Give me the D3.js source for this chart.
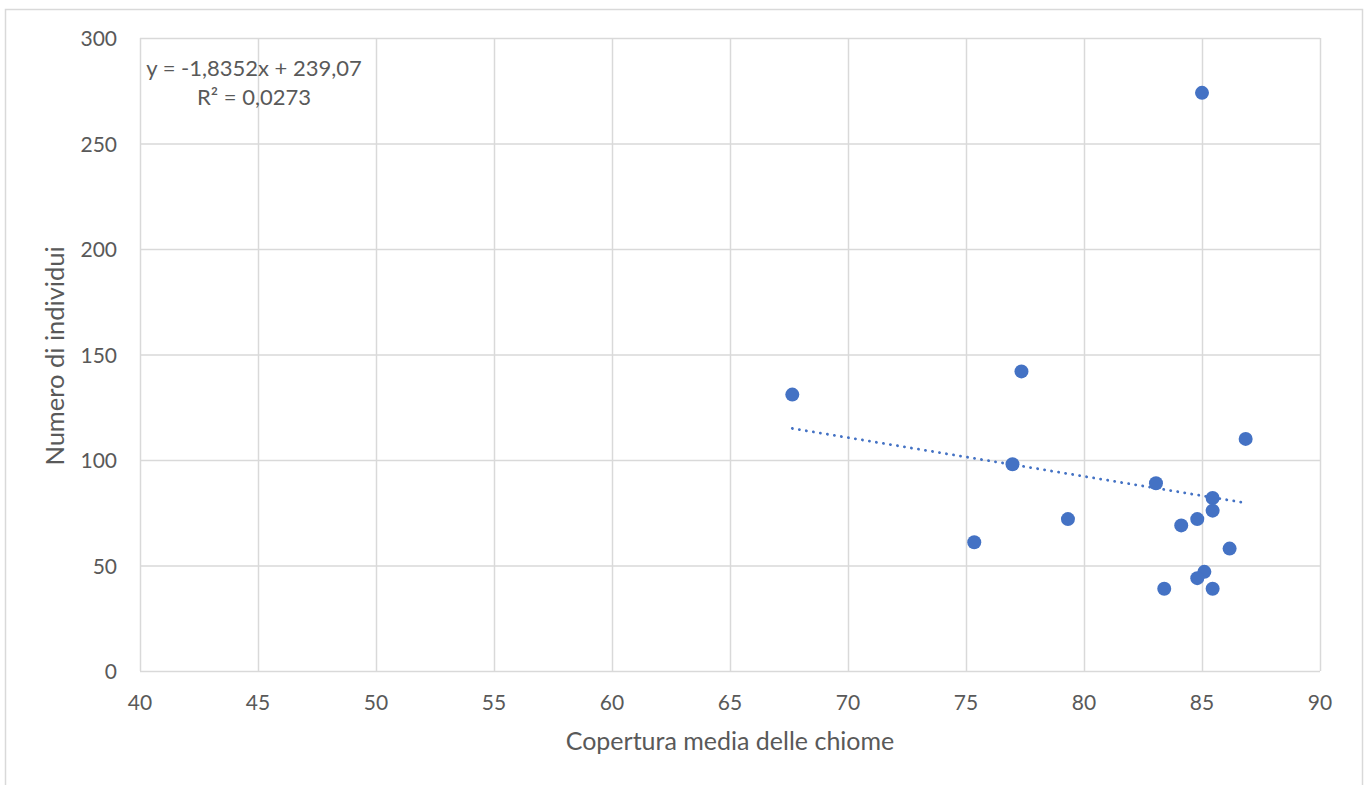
<!DOCTYPE html>
<html><head><meta charset="utf-8">
<script src="https://cdn.jsdelivr.net/npm/d3@7"></script>
<style>
body{margin:0;background:#fff;}
text{font-family:Lato,"Open Sans",sans-serif;fill:#595959;}
</style></head>
<body><svg id="c" width="1369" height="785"></svg>
<script>
const xValues = [67.64, 77.35, 85.0, 76.97, 86.85, 75.35, 79.32, 83.05, 85.45, 85.45, 84.8, 84.12, 86.17, 85.1, 84.8, 85.45, 83.4];
const yValues = [131, 142, 274, 98, 110, 61, 72, 89, 82, 76, 72, 69, 58, 47, 44, 39, 39];
const xTicks = [40, 45, 50, 55, 60, 65, 70, 75, 80, 85, 90];
const yTicks = [0, 50, 100, 150, 200, 250, 300];
const slope = -1.8352, intercept = 239.07;
const eqLabel = "y = -1,8352x + 239,07";
const r2Label = "R² = 0,0273";
const xTitle = "Copertura media delle chiome";
const yTitle = "Numero di individui";

const svg = d3.select("#c");
const L = 140, R = 1320, T = 38, B = 671;
const x = d3.scaleLinear().domain([40, 90]).range([L, R]);
const y = d3.scaleLinear().domain([0, 300]).range([B, T]);

svg.append("rect").attr("x", 5.5).attr("y", 9.5).attr("width", 1357).attr("height", 800)
  .attr("fill", "none").attr("stroke", "#d9d9d9").attr("stroke-width", 1.5);

// gridlines
const gx = svg.append("g").attr("transform", `translate(0,${B})`)
  .call(d3.axisBottom(x).tickValues(xTicks).tickSize(-(B - T)).tickFormat(""));
const gy = svg.append("g").attr("transform", `translate(${L},0)`)
  .call(d3.axisLeft(y).tickValues(yTicks).tickSize(-(R - L)).tickFormat(""));
[gx, gy].forEach(g => {
  g.select(".domain").remove();
  g.selectAll("line").attr("stroke", "#d9d9d9").attr("stroke-width", 1.5);
});

// tick labels
svg.append("g").selectAll("text").data(xTicks).join("text")
  .attr("x", d => x(d)).attr("y", B + 39).attr("text-anchor", "middle")
  .attr("font-size", 21).text(d => d);
svg.append("g").selectAll("text").data(yTicks).join("text")
  .attr("x", L - 23).attr("y", d => y(d) + 8).attr("text-anchor", "end")
  .attr("font-size", 21).text(d => d);

// axis titles
svg.append("text").attr("x", 730).attr("y", 750).attr("text-anchor", "middle")
  .attr("font-size", 25).text(xTitle);
svg.append("text").attr("transform", `translate(64,356) rotate(-90)`)
  .attr("text-anchor", "middle").attr("font-size", 25.5).text(yTitle);

// trendline
const xmin = d3.min(xValues), xmax = d3.max(xValues);
svg.append("line")
  .attr("x1", x(xmin)).attr("y1", y(slope * xmin + intercept))
  .attr("x2", x(xmax)).attr("y2", y(slope * xmax + intercept))
  .attr("stroke", "#4472C4").attr("stroke-width", 2.8)
  .attr("stroke-dasharray", "0.1,7").attr("stroke-linecap", "round");

// points
svg.append("g").selectAll("circle").data(xValues.map((v, i) => [v, yValues[i]])).join("circle")
  .attr("cx", d => x(d[0])).attr("cy", d => y(d[1])).attr("r", 7)
  .attr("fill", "#4472C4");

// equation
svg.append("text").attr("x", 254).attr("y", 76).attr("text-anchor", "middle")
  .attr("font-size", 22).text(eqLabel);
svg.append("text").attr("x", 254).attr("y", 105).attr("text-anchor", "middle")
  .attr("font-size", 22).text(r2Label);
</script></body></html>
